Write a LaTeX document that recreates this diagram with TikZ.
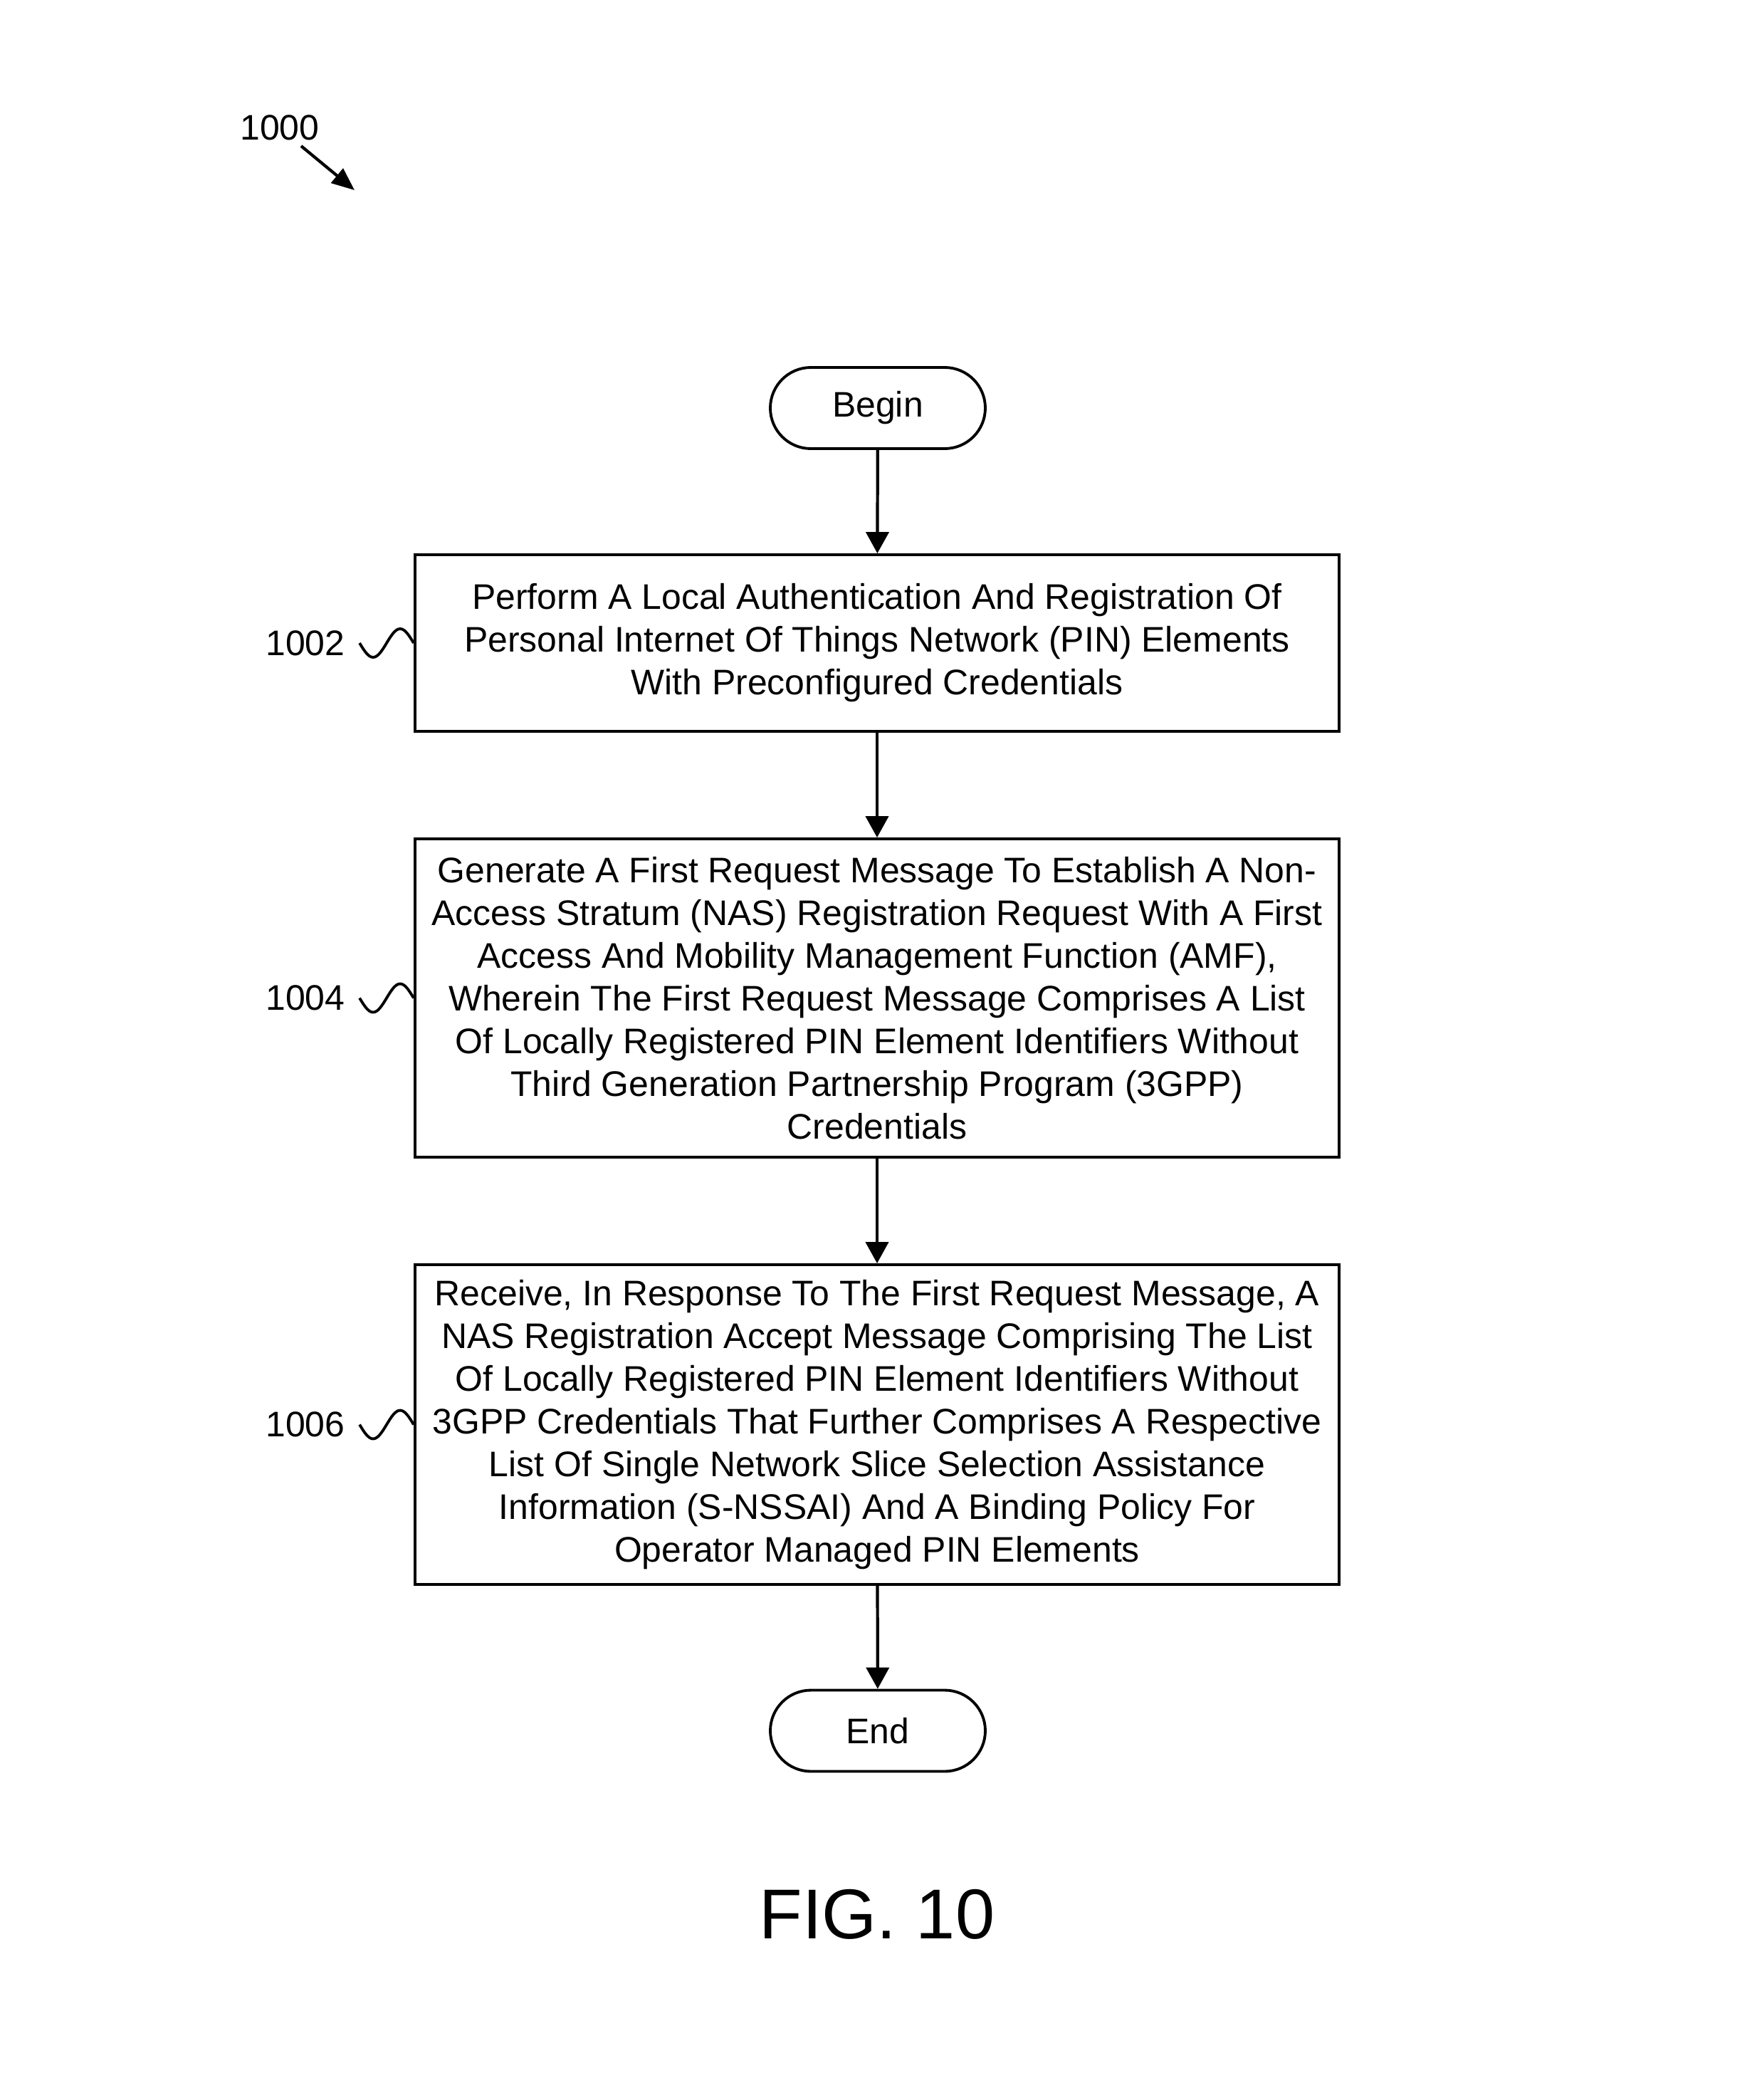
\documentclass[tikz,border=0pt]{standalone}
\usepackage{fontspec}
\setmainfont{Liberation Sans}
\usetikzlibrary{arrows.meta}
\begin{document}
\begin{tikzpicture}[
  x=1cm,y=1cm,
  every node/.style={font=\fontsize{14.2}{17.07}\selectfont},
  procbox/.style={draw,line width=1.1pt,minimum width=12.98cm,align=center,inner sep=0pt},
  term/.style={draw,line width=1.1pt,minimum width=3.02cm,minimum height=1.14cm,rounded corners=0.57cm},
  flow/.style={line width=1.2pt,-{Triangle[length=0.3cm,width=0.32cm]}},
  squig/.style={line width=1.1pt},
  reflabel/.style={}
]
\useasboundingbox (0,0) rectangle (24.68,-29.49);

\node[reflabel] (l1000) at (3.93,-1.79) {1000};
\coordinate (a1000s) at (4.23,-2.05);
\coordinate (a1000e) at (4.98,-2.67);
\draw[line width=1.2pt,-{Triangle[length=0.32cm,width=0.26cm]}] (a1000s) -- (a1000e);

\node[term] (begin) at (12.33,-5.73) {Begin};

\node[procbox,minimum height=2.48cm] (b1) at (12.32,-9.03) {Perform A Local Authentication And Registration Of\\Personal Internet Of Things Network (PIN) Elements\\With Preconfigured Credentials};

\node[procbox,minimum height=4.47cm] (b2) at (12.32,-14.015) {Generate A First Request Message To Establish A Non-\\Access Stratum (NAS) Registration Request With A First\\Access And Mobility Management Function (AMF),\\Wherein The First Request Message Comprises A List\\Of Locally Registered PIN Element Identifiers Without\\Third Generation Partnership Program (3GPP)\\Credentials};

\node[procbox,minimum height=4.49cm] (b3) at (12.32,-20.005) {Receive, In Response To The First Request Message, A\\NAS Registration Accept Message Comprising The List\\Of Locally Registered PIN Element Identifiers Without\\3GPP Credentials That Further Comprises A Respective\\List Of Single Network Slice Selection Assistance\\Information (S-NSSAI) And A Binding Policy For\\Operator Managed PIN Elements};

\node[term] (end) at (12.33,-24.305) {End};

\draw[flow] (begin) -- (b1);
\draw[flow] (b1) -- (b2);
\draw[flow] (b2) -- (b3);
\draw[flow] (b3) -- (end);

\node[reflabel] (l1002) at (4.29,-9.03) {1002};
\node[reflabel] (l1004) at (4.29,-14.015) {1004};
\node[reflabel] (l1006) at (4.29,-20.005) {1006};

\foreach \b in {b1,b2,b3}{
  \draw[squig] (\b.west) ++(-0.76,0) sin ++(0.19,-0.2) cos ++(0.19,0.2) sin ++(0.19,0.2) cos ++(0.19,-0.2);
}

\node[font=\fontsize{28.2}{34}\selectfont] (fig) at (12.32,-26.88) {FIG. 10};
\end{tikzpicture}
\end{document}
